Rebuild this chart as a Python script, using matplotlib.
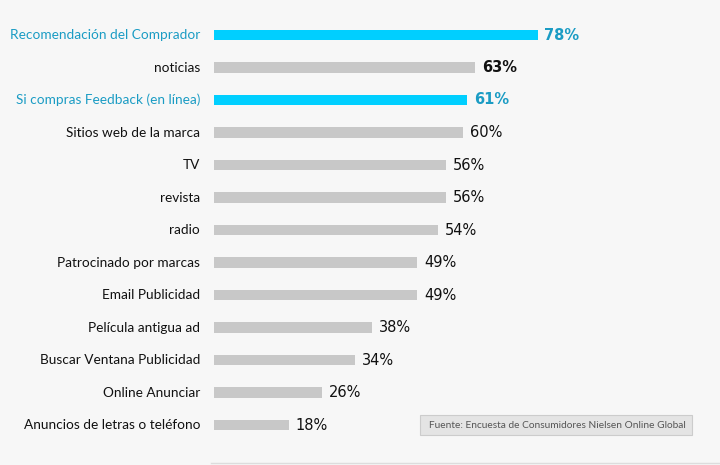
import matplotlib.pyplot as plt
from matplotlib.patches import FancyBboxPatch

categories = ["Recomendación del Comprador", "noticias", "Si compras Feedback (en línea)",
              "Sitios web de la marca", "TV", "revista", "radio", "Patrocinado por marcas",
              "Email Publicidad", "Película antigua ad", "Buscar Ventana Publicidad",
              "Online Anunciar", "Anuncios de letras o teléfono"]
values = [78, 63, 61, 60, 56, 56, 54, 49, 49, 38, 34, 26, 18]
highlight = [True, False, True, False, False, False, False, False, False, False, False, False, False]
source = "Fuente: Encuesta de Consumidores Nielsen Online Global"

plt.rcParams['font.family'] = ['Lato', 'DejaVu Sans']
bg = "#f7f7f7"
cyan = "#00cfff"
cyan_txt = "#1b9cc4"
grey = "#c8c8c8"

fig = plt.figure(figsize=(7.2, 4.65), dpi=100, facecolor=bg)
ax = fig.add_axes([214/720, 0, 1 - 214/720, 1])
ax.set_facecolor(bg)

ypos = list(range(len(values)))
colors = [cyan if h else grey for h in highlight]
ax.barh(ypos, values, height=0.31, color=colors)
ax.set_xlim(0, 122)
ax.set_ylim(12 + 40/32.5, -35/32.5)
ax.axis("off")

for i, (c, v, h) in enumerate(zip(categories, values, highlight)):
    ax.annotate(c, xy=(0, i), xytext=(-10, 0), textcoords="offset points",
                ha="right", va="center", fontsize=9.8,
                color=cyan_txt if h else "#111111")
    ax.annotate(f"{v}%", xy=(v, i), xytext=(5, 0), textcoords="offset points",
                ha="left", va="center", fontsize=10.5, fontfamily=["DejaVu Sans"],
                fontweight="bold" if h else ("semibold" if i < 3 else "normal"),
                color=cyan_txt if h else "#111111")

# bottom rule
fig.add_artist(plt.Line2D([211/720, 1], [2/465, 2/465], color="#dddddd", lw=1))

# source box
box = FancyBboxPatch((420/720, (465-435)/465), 272/720, 20/465,
                     boxstyle="square,pad=0", transform=fig.transFigure,
                     facecolor="#e4e4e4", edgecolor="#cccccc", lw=0.8)
fig.add_artist(box)
fig.text(686/720, (465-425)/465, source, ha="right", va="center",
         fontsize=7.3, color="#555555")

fig.savefig("out.png", dpi=100, facecolor=bg)
